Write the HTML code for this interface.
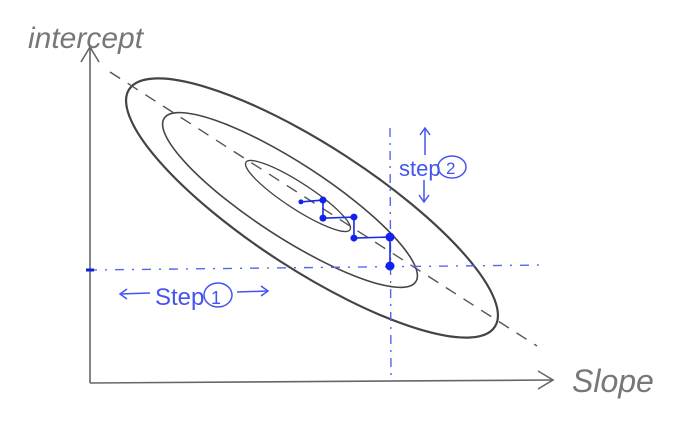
<!DOCTYPE html>
<html><head><meta charset="utf-8"><style>
body{margin:0;background:#fff;width:694px;height:445px;overflow:hidden}
svg{display:block}
text{font-family:"Liberation Sans",sans-serif}
</style></head><body>
<svg id="chart" width="694" height="445" viewBox="0 0 694 445">
  <g stroke="#666" stroke-width="1.6" fill="none">
    <line x1="90" y1="383" x2="90" y2="48"/>
    <polyline points="81,62 90,47 99,62"/>
    <line x1="90" y1="383" x2="552" y2="380"/>
    <polyline points="538,371 553,380 538,389"/>
  </g>
  <text x="28" y="48" font-size="30" fill="#777" font-style="italic">intercept</text>
  <text x="572" y="392" font-size="32" fill="#777" font-style="italic">Slope</text>
  <g fill="none" stroke="#444">
    <ellipse cx="312" cy="208" rx="218" ry="62" transform="rotate(33 312 208)" stroke-width="2.2"/>
    <ellipse cx="290" cy="200" rx="150" ry="37" transform="rotate(33 290 200)" stroke-width="1.6"/>
    <ellipse cx="298" cy="196" rx="62" ry="13" transform="rotate(33 298 196)" stroke-width="1.3"/>
  </g>
  <line x1="110" y1="72" x2="537" y2="346" stroke="#555" stroke-width="1.4" stroke-dasharray="12,9"/>
  <line x1="88" y1="270" x2="545" y2="265" stroke="#5566ee" stroke-width="1.4" stroke-dasharray="9,8,2,8"/>
  <line x1="86" y1="270" x2="94" y2="270" stroke="#1122dd" stroke-width="3"/>
  <line x1="390" y1="128" x2="391" y2="380" stroke="#5566ee" stroke-width="1.4" stroke-dasharray="9,6,2,6"/>
  <g fill="none" stroke="#4455ee" stroke-width="1.5">
    <line x1="120" y1="294" x2="150" y2="293"/><polyline points="127,289 120,294 127,299"/>
    <line x1="237" y1="292" x2="268" y2="291"/><polyline points="261,286 268,291 261,296"/>
    <ellipse cx="218" cy="295" rx="14" ry="12"/>
  </g>
  <text x="155" y="305" font-size="24" fill="#4455ee">Step</text>
  <text x="211" y="304" font-size="18" fill="#4455ee">1</text>
  <g fill="none" stroke="#4455ee" stroke-width="1.5">
    <line x1="425" y1="128" x2="425" y2="155"/><polyline points="420,135 425,128 430,135"/>
    <line x1="424" y1="180" x2="424" y2="202"/><polyline points="419,195 424,202 429,195"/>
    <ellipse cx="452" cy="167" rx="14" ry="11"/>
  </g>
  <text x="399" y="176" font-size="22" fill="#4455ee">step</text>
  <text x="446" y="174" font-size="17" fill="#4455ee">2</text>
  <g id="path"></g>
</svg>
<script>
const stepSlope = [0.661, 0.73, 0.73, 0.827, 0.827, 0.94, 0.94];
const stepIntercept = [0.681, 0.688, 0.62, 0.624, 0.545, 0.549, 0.44];
const pointSizes = [2.5, 3.5, 3.5, 3.5, 3.5, 4.5, 4.5];
// axis mapping: slope 0..1 -> x ; intercept 0..1 -> y
function sx(v){return 90 + v*(390-90)/0.94;}
function sy(v){return 383 - v*(383-266)/0.44;}
const g = document.getElementById('path');
const NS = 'http://www.w3.org/2000/svg';
const pl = document.createElementNS(NS,'polyline');


pl.setAttribute('points', stepSlope.map((s,i)=>sx(s)+','+sy(stepIntercept[i])).join(' '));
pl.setAttribute('fill','none');pl.setAttribute('stroke','#1a2ae8');pl.setAttribute('stroke-width','1.6');
g.appendChild(pl);
stepSlope.forEach((s,i)=>{
  const c = document.createElementNS(NS,'circle');
  
  
  c.setAttribute('cx', sx(s)); c.setAttribute('cy', sy(stepIntercept[i]));
  c.setAttribute('r', pointSizes[i]); c.setAttribute('fill','#1122ee');
  g.appendChild(c);
});
</script>
</body></html>
